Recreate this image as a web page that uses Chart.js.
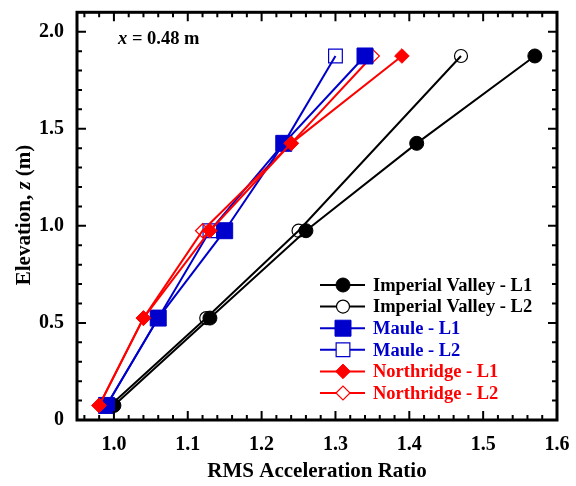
<!DOCTYPE html>
<html>
<head>
<meta charset="utf-8">
<script src="https://cdn.jsdelivr.net/npm/chart.js@4/dist/chart.umd.min.js"></script>
<style>
html,body{margin:0;padding:0;background:#fff;}
#wrap{width:576px;height:486px;position:relative;}
</style>
</head>
<body>
<div id="wrap"><canvas id="c" width="576" height="486"></canvas></div>
<script>
// ---- data ----
const elevations = [0.075, 0.525, 0.975, 1.425, 1.875];
const ivL1    = [1.00, 1.13, 1.26, 1.41, 1.57];
const ivL2    = [0.995, 1.125, 1.25, null, 1.47];
const mauleL1 = [0.99, 1.06, 1.15, 1.23, 1.34];
const mauleL2 = [0.99, 1.06, 1.13, 1.23, 1.30];
const nrL1    = [0.98, 1.04, 1.13, 1.24, 1.39];
const nrL2    = [0.98, 1.04, 1.12, 1.24, 1.35];
const seriesNames = ['Imperial Valley - L1','Imperial Valley - L2','Maule - L1','Maule - L2','Northridge - L1','Northridge - L2'];
const xTickLabels = [1.0, 1.1, 1.2, 1.3, 1.4, 1.5, 1.6];
const yTickLabels = [0, 0.5, 1.0, 1.5, 2.0];
const annotationText = '= 0.48 m';

const FONT = "'Liberation Serif', 'Times New Roman', serif";
const BLACK = '#000000', BLUE = '#0000CC', RED = '#FF0000';

function pts(vals){
  return elevations.map((y,i)=>({x: vals[i], y: y})).filter(p => p.x !== null);
}
function ds(label, vals, color, style, radius, filled, order){
  return {
    label: label, data: pts(vals), borderColor: color, borderWidth: 2,
    pointStyle: style, pointRadius: radius, pointHoverRadius: radius,
    pointBorderColor: color, pointBackgroundColor: filled ? color : 'rgba(0,0,0,0)',
    pointBorderWidth: filled ? 1 : 1.2, fill: false, tension: 0, order: order,
    _filled: filled
  };
}
const datasets = [
  ds(seriesNames[0], ivL1, BLACK, 'circle', 7, true, 2),
  ds(seriesNames[1], ivL2, BLACK, 'circle', 6.5, false, 5),
  ds(seriesNames[2], mauleL1, BLUE, 'rect', 11.3, true, 1),
  ds(seriesNames[3], mauleL2, BLUE, 'rect', 9.7, false, 4),
  ds(seriesNames[4], nrL1, RED, 'rectRot', 7.3, true, 0),
  ds(seriesNames[5], nrL2, RED, 'rectRot', 7, false, 3)
];

function zeroPad(scale){
  scale.paddingTop = 0; scale.paddingBottom = 0; scale.paddingLeft = 0; scale.paddingRight = 0;
}

const framePlugin = {
  id: 'frame',
  afterDraw(chart){
    const ctx = chart.ctx, a = chart.chartArea;
    const xs = chart.scales.x, ys = chart.scales.y;
    ctx.save();
    // ticks
    ctx.strokeStyle = BLACK; ctx.lineWidth = 2;
    ctx.beginPath();
    for (let k = 48; k <= 80; k++) {
      const v = k / 50; const px = xs.getPixelForValue(v);
      if (px <= a.left + 1 || px >= a.right - 1) continue;
      const major = (k % 5 === 0);
      const L = major ? 9 : 5;
      ctx.moveTo(px, a.bottom); ctx.lineTo(px, a.bottom - L);
      ctx.moveTo(px, a.top); ctx.lineTo(px, a.top + L);
    }
    for (let k = 1; k <= 20; k++) {
      const v = k / 10; const py = ys.getPixelForValue(v);
      const major = (k % 5 === 0);
      const L = major ? 9 : 5;
      ctx.moveTo(a.left, py); ctx.lineTo(a.left + L, py);
      ctx.moveTo(a.right, py); ctx.lineTo(a.right - L, py);
    }
    ctx.stroke();
    // box
    ctx.lineWidth = 3;
    ctx.strokeRect(a.left, a.top, a.right - a.left, a.bottom - a.top);

    // annotation
    ctx.fillStyle = BLACK;
    ctx.textBaseline = 'alphabetic';
    ctx.textAlign = 'left';
    ctx.font = 'italic bold 18.5px ' + FONT;
    ctx.fillText('x', 118, 44);
    const wx = ctx.measureText('x ').width;
    ctx.font = 'bold 18.5px ' + FONT;
    ctx.fillText(annotationText, 118 + wx, 44);

    // x title
    ctx.font = 'bold 21px ' + FONT;
    ctx.textAlign = 'center';
    ctx.fillText('RMS Acceleration Ratio', 317, 477);

    // y title with italic z
    ctx.save();
    ctx.translate(30, 215);
    ctx.rotate(-Math.PI/2);
    const p1 = 'Elevation, ', p2 = 'z', p3 = ' (m)';
    ctx.font = 'bold 21px ' + FONT; const w1 = ctx.measureText(p1).width, w3 = ctx.measureText(p3).width;
    ctx.font = 'italic bold 21px ' + FONT; const w2 = ctx.measureText(p2).width;
    let sx = -(w1 + w2 + w3) / 2;
    ctx.textAlign = 'left';
    ctx.font = 'bold 21px ' + FONT; ctx.fillText(p1, sx, 0); sx += w1;
    ctx.font = 'italic bold 21px ' + FONT; ctx.fillText(p2, sx, 0); sx += w2;
    ctx.font = 'bold 21px ' + FONT; ctx.fillText(p3, sx, 0);
    ctx.restore();

    // legend
    const rowY0 = 285, rowDy = 21.6;
    chart.data.datasets.forEach((d, i) => {
      const y = rowY0 + i * rowDy;
      const color = d.borderColor;
      ctx.strokeStyle = color; ctx.lineWidth = 2;
      ctx.beginPath(); ctx.moveTo(320, y); ctx.lineTo(365, y); ctx.stroke();
      ctx.fillStyle = d._filled ? color : '#ffffff';
      ctx.lineWidth = d.pointBorderWidth;
      Chart.helpers.drawPoint(ctx, {pointStyle: d.pointStyle, radius: d.pointRadius, rotation: 0, borderWidth: d.pointBorderWidth}, 343, y);
      ctx.fillStyle = color;
      ctx.font = 'bold 18.5px ' + FONT;
      ctx.textAlign = 'left'; ctx.textBaseline = 'middle';
      ctx.fillText(d.label, 373, y + 1);
    });
    ctx.restore();
  }
};

new Chart(document.getElementById('c'), {
  type: 'line',
  data: { datasets: datasets },
  options: {
    responsive: false, animation: false, devicePixelRatio: 1,
    layout: { padding: { top: 7, right: 19, left: 0, bottom: 0 } },
    plugins: { legend: { display: false }, tooltip: { enabled: false } },
    scales: {
      x: {
        type: 'linear', min: 0.95, max: 1.6,
        afterBuildTicks(scale){ scale.ticks = xTickLabels.map(v => ({value: v})); },
        afterFit(scale){ scale.height = 66; zeroPad(scale); },
        ticks: { callback: v => Number(v).toFixed(1), color: BLACK, padding: 13, maxRotation: 0, autoSkip: false,
                 font: { family: FONT, size: 20, weight: 'bold' } },
        grid: { display: false, drawTicks: false }, border: { display: false }
      },
      y: {
        type: 'linear', min: 0, max: 2.1,
        afterBuildTicks(scale){ scale.ticks = yTickLabels.map(v => ({value: v})); },
        afterFit(scale){ scale.width = 77; zeroPad(scale); },
        ticks: { callback: v => (v === 0 ? '0' : Number(v).toFixed(1)), color: BLACK, padding: 13, autoSkip: false,
                 font: { family: FONT, size: 20, weight: 'bold' } },
        grid: { display: false, drawTicks: false }, border: { display: false }
      }
    }
  },
  plugins: [framePlugin]
});
</script>
</body>
</html>
